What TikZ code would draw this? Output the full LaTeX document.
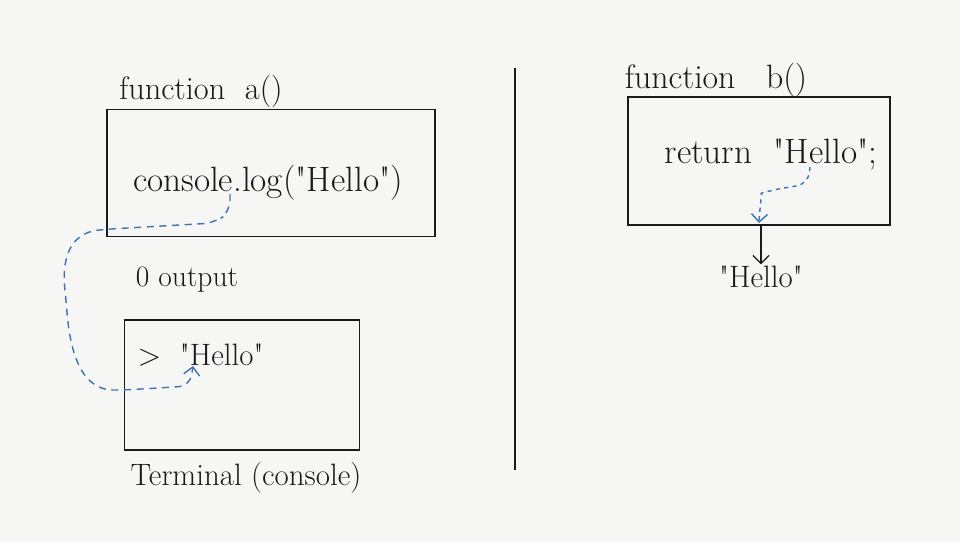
\documentclass[tikz,border=0pt]{standalone}
\usepackage{tikz}
\usetikzlibrary{arrows.meta,positioning}

\definecolor{paper}{HTML}{F6F6F5}
\definecolor{pen}{HTML}{1A1A1A}
\definecolor{inkblue}{HTML}{3F72B4}

\newcommand{\qq}{\textquotedbl}

\begin{document}
\begin{tikzpicture}[
    x=0.025cm, y=-0.025cm,
    >={Straight Barb[length=2mm]},
    frame/.style={
        rectangle,
        draw=pen,
        line width=1.1pt,
        minimum width=#1,
        inner sep=0pt
    },
    hand/.style={
        font=\fontsize{#1}{#1}\selectfont,
        text=pen,
        inner sep=1pt
    },
    trace/.style={
        ->,
        draw=inkblue,
        line width=1pt,
        dash pattern=on 5pt off 4pt,
        rounded corners=8pt
    }
]

% paper
\fill[paper] (0,0) rectangle (960,542);
\useasboundingbox (0,0) rectangle (960,542);

% left half: function a()
\node[hand=23] (titlea) at (201,91) {function\ \ a()};
\node[frame=8.2cm, minimum height=3.175cm] (boxa) at (271,173) {};
\node[hand=25] (loga) at (268,183) {console.log(\qq Hello\qq)};
\coordinate (dota) at (230,194);
\node[hand=21] (outa) at (187,280) {0 output};

\node[frame=5.875cm, minimum height=3.25cm] (term) at (242,385) {};
\node[hand=22, anchor=west] (printa) at (136,355) {>\ \ \qq Hello\qq};
\coordinate (tipa) at (193,366);
\node[hand=22] (terma) at (246,478) {Terminal (console)};

% divider
\coordinate (divtop) at (515,68);
\coordinate (divbot) at (515,470);
\draw[pen, line width=1.1pt] (divtop) -- (divbot);

% right half: function b()
\node[hand=24] (titleb) at (716,80) {function\ \ \ b()};
\node[frame=6.55cm, minimum height=3.2cm] (boxb) at (759,161) {};
\node[hand=25] (retb) at (771,155) {return\ \ \qq Hello\qq;};
\coordinate (fromb) at (810,167);
\coordinate (tipb) at (759,223);
\node[hand=22] (outb) at (761,277) {\qq Hello\qq};

% console.log sends the string to the terminal
\draw[trace] (dota) -- (230,212) -- (214,223) -- (110,229)
    .. controls (68,233) and (62,262) .. (66,300)
    .. controls (70,350) and (80,390) .. (125,390)
    -- (190,386) -- (tipa);

% return hands the value back to the caller
\draw[trace, dash pattern=on 3pt off 3pt] (fromb) -- (808,184) -- (772,190)
    .. controls (762,193) and (760,205) .. (tipb);
\draw[->, pen, line width=0.9pt] (boxb.south -| outb) -- (outb.north);

\end{tikzpicture}
\end{document}
